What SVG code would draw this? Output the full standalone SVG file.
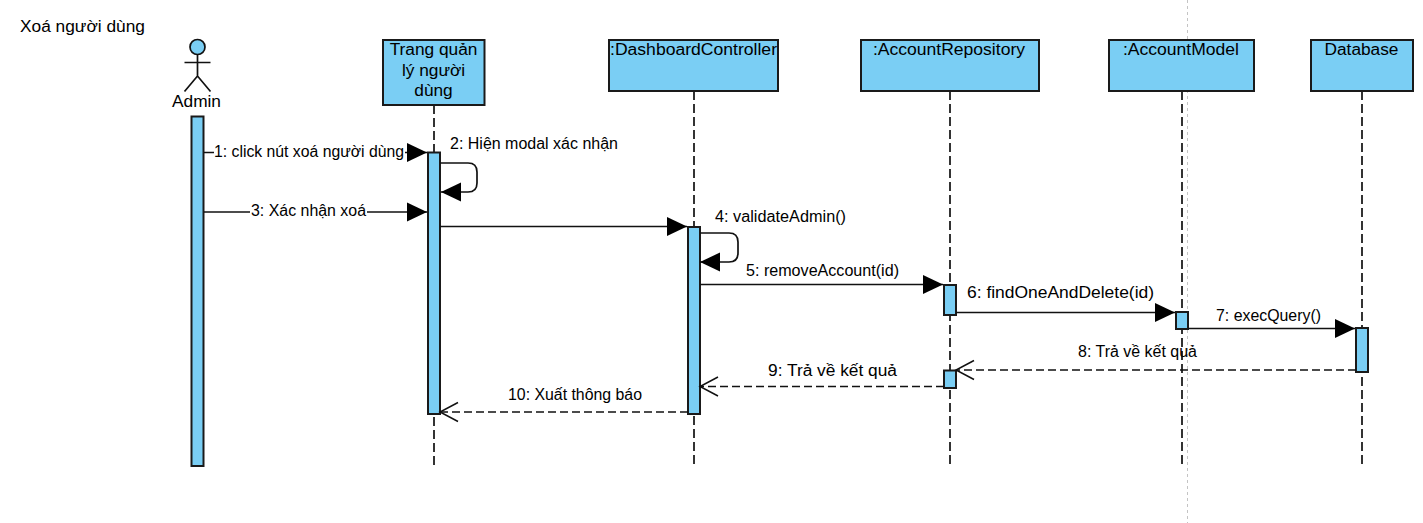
<svg xmlns="http://www.w3.org/2000/svg" width="1423" height="523" viewBox="0 0 1423 523">
<style>
text{font-family:"Liberation Sans",Arial,sans-serif;fill:#000}
.n{font-size:17.300px;text-anchor:middle}
.l{font-size:16px;text-anchor:middle}
.b{fill:#7ACEF4;stroke:#1a1a1a;stroke-width:2}
.ll{stroke:#333;stroke-width:2;stroke-dasharray:9 4;fill:none}
.m{stroke:#111;stroke-width:1.700;fill:none}
.d{stroke:#111;stroke-width:1.700;fill:none;stroke-dasharray:8 4}
.bg{fill:#fff}
</style>
<defs>
<marker id="f" markerUnits="userSpaceOnUse" markerWidth="22" markerHeight="22" refX="20" refY="11" orient="auto"><path d="M0 1.500L20 11L0 20.500Z" fill="#000"/></marker>
<marker id="o" markerUnits="userSpaceOnUse" markerWidth="22" markerHeight="22" refX="19" refY="11" orient="auto"><path d="M1 1.500L19 11L1 20.500" fill="none" stroke="#111" stroke-width="1.500"/></marker>
</defs>
<line x1="1187.500" y1="0" x2="1187.500" y2="523" stroke="#c4c4c4" stroke-width="1" stroke-dasharray="3 3"/>
<text x="20" y="32" font-size="17.300" textLength="125" lengthAdjust="spacingAndGlyphs">Xoá người dùng</text>
<g id="lifelines">
<line class="ll" x1="434" y1="105" x2="434" y2="466"/>
<line class="ll" x1="694" y1="91" x2="694" y2="466"/>
<line class="ll" x1="950" y1="91" x2="950" y2="466"/>
<line class="ll" x1="1182" y1="91" x2="1182" y2="466"/>
<line class="ll" x1="1362" y1="91" x2="1362" y2="466"/>
</g>
<g id="admin">
<circle cx="197.500" cy="47" r="7.500" fill="#7ACEF4" stroke="#111" stroke-width="1.700"/>
<path d="M197.500 55V76M184.500 62.500H210.500M184.500 91.500L197.500 76L210.500 91.500" fill="none" stroke="#111" stroke-width="1.700"/>
<text class="n" x="196.500" y="107">Admin</text>
<rect class="b" x="191.500" y="116.500" width="12" height="349.500"/>
</g>
<g id="trang">
<rect class="b" x="383" y="40" width="101.500" height="65"/>
<text class="n" x="433.500" y="55">Trang quản</text>
<text class="n" x="433.500" y="76">lý người</text>
<text class="n" x="433.500" y="96">dùng</text>
<rect class="b" x="428" y="152.500" width="12" height="261.500"/>
</g>
<g id="dashboard">
<rect class="b" x="609" y="40" width="169" height="51"/>
<text class="n" x="693.500" y="55" textLength="167" lengthAdjust="spacingAndGlyphs">:DashboardController</text>
<rect class="b" x="688" y="227" width="12" height="187"/>
</g>
<g id="repository">
<rect class="b" x="861" y="40" width="178" height="51"/>
<text class="n" x="949" y="55" textLength="152" lengthAdjust="spacingAndGlyphs">:AccountRepository</text>
<rect class="b" x="944" y="285" width="12" height="30"/>
<rect class="b" x="944" y="370.500" width="12" height="17.500"/>
</g>
<g id="model">
<rect class="b" x="1109" y="40" width="145" height="51"/>
<text class="n" x="1181" y="55" textLength="116" lengthAdjust="spacingAndGlyphs">:AccountModel</text>
<rect class="b" x="1176" y="312" width="12" height="17"/>
</g>
<g id="database">
<rect class="b" x="1311" y="40" width="102" height="51"/>
<text class="n" x="1361.500" y="55">Database</text>
<rect class="b" x="1356" y="328" width="12" height="44"/>
</g>
<g id="connectors">
<line class="m" x1="204" y1="152.500" x2="427" y2="152.500" marker-end="url(#f)"/>
<path class="m" d="M440 163H468Q477 163 477 172V183Q477 192 468 192H441" marker-end="url(#f)"/>
<line class="m" x1="204" y1="212" x2="427" y2="212" marker-end="url(#f)"/>
<line class="m" x1="440" y1="226.500" x2="687" y2="226.500" marker-end="url(#f)"/>
<path class="m" d="M700 233H729Q738 233 738 242V253Q738 262 729 262H700" marker-end="url(#f)"/>
<line class="m" x1="700" y1="284.500" x2="943" y2="284.500" marker-end="url(#f)"/>
<line class="m" x1="956" y1="312.500" x2="1175" y2="312.500" marker-end="url(#f)"/>
<line class="m" x1="1188" y1="328.500" x2="1355" y2="328.500" marker-end="url(#f)"/>
<line class="d" x1="1356" y1="370" x2="956" y2="370" marker-end="url(#o)"/>
<line class="d" x1="944" y1="386.500" x2="700" y2="386.500" marker-end="url(#o)"/>
<line class="d" x1="688" y1="412" x2="440" y2="412" marker-end="url(#o)"/>
</g>
<g id="labels">
<rect class="bg" x="214" y="144" width="191" height="17"/>
<text class="l" x="309" y="157" textLength="190" lengthAdjust="spacingAndGlyphs">1: click nút xoá người dùng</text>
<text class="l" x="534" y="149" textLength="168" lengthAdjust="spacingAndGlyphs">2: Hiện modal xác nhận</text>
<rect class="bg" x="250" y="204" width="117" height="17"/>
<text class="l" x="308.500" y="216" textLength="115" lengthAdjust="spacingAndGlyphs">3: Xác nhận xoá</text>
<text class="l" x="780.500" y="222" textLength="131" lengthAdjust="spacingAndGlyphs">4: validateAdmin()</text>
<text class="l" x="822.500" y="276" textLength="153" lengthAdjust="spacingAndGlyphs">5: removeAccount(id)</text>
<text class="l" x="1060.500" y="298" textLength="187" lengthAdjust="spacingAndGlyphs">6: findOneAndDelete(id)</text>
<text class="l" x="1268.500" y="321" textLength="105" lengthAdjust="spacingAndGlyphs">7: execQuery()</text>
<text class="l" x="1137.500" y="357" textLength="119" lengthAdjust="spacingAndGlyphs">8: Trả về kết quả</text>
<text class="l" x="832.500" y="376" textLength="129" lengthAdjust="spacingAndGlyphs">9: Trả về kết quả</text>
<text class="l" x="575" y="400" textLength="134" lengthAdjust="spacingAndGlyphs">10: Xuất thông báo</text>
</g>
</svg>
